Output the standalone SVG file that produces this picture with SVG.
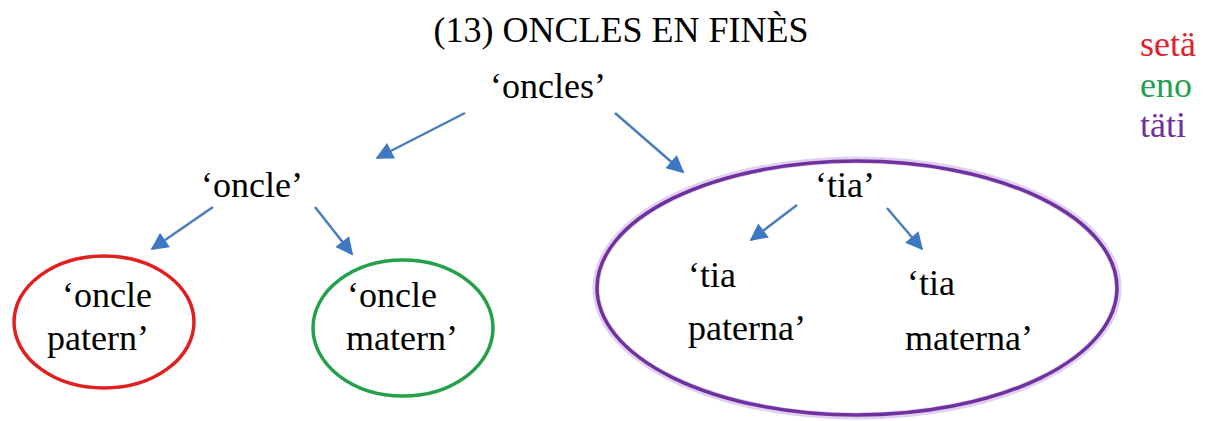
<svg xmlns="http://www.w3.org/2000/svg" width="1207" height="421" viewBox="0 0 1207 421">
  <style>
    .t { font-family: "Liberation Serif", "Times New Roman", serif; font-size: 36px; fill: #000; }
    .ring { fill: none; stroke-width: 3.5; }
    .halo { fill: none; stroke: #C9B3E2; stroke-width: 7; opacity: 0.6; }
    .link { stroke: #4A7EBB; stroke-width: 2.5; fill: none; marker-end: url(#head); }
  </style>
  <defs>
    <marker id="head" viewBox="0 0 10 10" refX="9" refY="5" markerWidth="8" markerHeight="7" markerUnits="strokeWidth" orient="auto">
      <path d="M0,0 L10,5 L0,10 z" fill="#3E78C2"/>
    </marker>
  </defs>
  <rect width="1207" height="421" fill="#fff"/>

  <text id="title" class="t" x="621" y="42" text-anchor="middle">(13) ONCLES EN FINÈS</text>

  <!-- colour key for the three Finnish terms -->
  <g id="legend">
    <text class="t" x="1140" y="56" style="fill:#E0202A">setä</text>
    <text class="t" x="1140" y="97" style="fill:#23A050">eno</text>
    <text class="t" x="1140" y="137" style="fill:#7030A0">täti</text>
  </g>

  <g id="connectors">
    <line class="link" x1="465" y1="113" x2="377" y2="158"/>
    <line class="link" x1="615" y1="113" x2="683" y2="172"/>
    <line class="link" x1="213" y1="207" x2="152" y2="249"/>
    <line class="link" x1="315" y1="207" x2="352" y2="254"/>
    <line class="link" x1="797" y1="205" x2="751" y2="240"/>
    <line class="link" x1="887" y1="208" x2="922" y2="249"/>
  </g>

  <g id="oncles">
    <text class="t" x="490" y="98">‘oncles’</text>
  </g>

  <g id="oncle">
    <text class="t" x="201" y="197">‘oncle’</text>
  </g>

  <g id="oncle-patern">
    <ellipse class="ring" cx="104" cy="322" rx="90" ry="66" stroke="#E02020"/>
    <text class="t" x="62" y="307">‘oncle</text>
    <text class="t" x="47" y="350">patern’</text>
  </g>

  <g id="oncle-matern">
    <ellipse class="ring" cx="403" cy="328" rx="90" ry="68" stroke="#22A04B"/>
    <text class="t" x="347" y="307">‘oncle</text>
    <text class="t" x="346" y="350">matern’</text>
  </g>

  <g id="tia-group">
    <ellipse class="halo" cx="857" cy="288" rx="261" ry="128"/>
    <ellipse class="ring" cx="857" cy="288" rx="260" ry="127" stroke="#7030A0"/>
  </g>

  <g id="tia">
    <text class="t" x="815" y="197">‘tia’</text>
  </g>

  <g id="tia-paterna">
    <text class="t" x="688" y="287">‘tia</text>
    <text class="t" x="688" y="340">paterna’</text>
  </g>

  <g id="tia-materna">
    <text class="t" x="907" y="295">‘tia</text>
    <text class="t" x="905" y="350">materna’</text>
  </g>
</svg>
